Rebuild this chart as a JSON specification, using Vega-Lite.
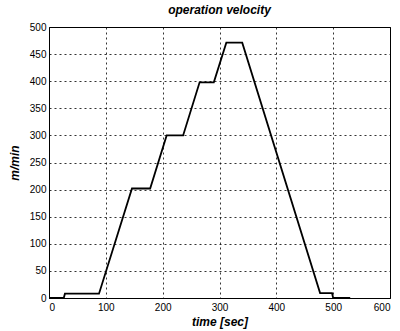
{
  "$schema": "https://vega.github.io/schema/vega-lite/v6.json",
  "width": 341,
  "height": 271,
  "autosize": {"type": "none"},
  "padding": {"left": 49, "top": 27, "right": 10, "bottom": 33},
  "background": "white",
  "title": {
    "text": "operation velocity",
    "font": "Liberation Sans",
    "fontSize": 12,
    "fontStyle": "italic",
    "fontWeight": "bold",
    "color": "black",
    "offset": 5,
    "anchor": "middle"
  },
  "config": {
    "view": {"stroke": "black", "strokeWidth": 1},
    "axis": {
      "labelFont": "Liberation Sans",
      "labelFontSize": 10,
      "labelColor": "black",
      "titleFont": "Liberation Sans",
      "titleFontSize": 12,
      "titleFontStyle": "italic",
      "titleFontWeight": "bold",
      "titleColor": "black",
      "domain": false,
      "ticks": false,
      "grid": true,
      "gridColor": "black",
      "gridDash": [2, 3],
      "gridWidth": 1,
      "gridOpacity": 0.8
    }
  },
  "data": {
    "values": [
      {"t": 0, "v": 0},
      {"t": 26, "v": 0},
      {"t": 28, "v": 8},
      {"t": 88, "v": 8},
      {"t": 146, "v": 202},
      {"t": 178, "v": 202},
      {"t": 207, "v": 300},
      {"t": 236, "v": 300},
      {"t": 265, "v": 398},
      {"t": 290, "v": 398},
      {"t": 312, "v": 471},
      {"t": 340, "v": 471},
      {"t": 477, "v": 9},
      {"t": 498, "v": 9},
      {"t": 500, "v": 0},
      {"t": 530, "v": 0}
    ]
  },
  "mark": {"type": "line", "color": "black", "strokeWidth": 1.8},
  "encoding": {
    "x": {
      "field": "t",
      "type": "quantitative",
      "scale": {"domain": [0, 600], "nice": false},
      "axis": {"title": "time [sec]", "values": [0, 100, 200, 300, 400, 500, 600], "labelPadding": 4, "titlePadding": 4}
    },
    "y": {
      "field": "v",
      "type": "quantitative",
      "scale": {"domain": [0, 500], "nice": false},
      "axis": {"title": "m/min", "values": [0, 50, 100, 150, 200, 250, 300, 350, 400, 450, 500], "labelPadding": 3, "titlePadding": 8}
    }
  }
}
